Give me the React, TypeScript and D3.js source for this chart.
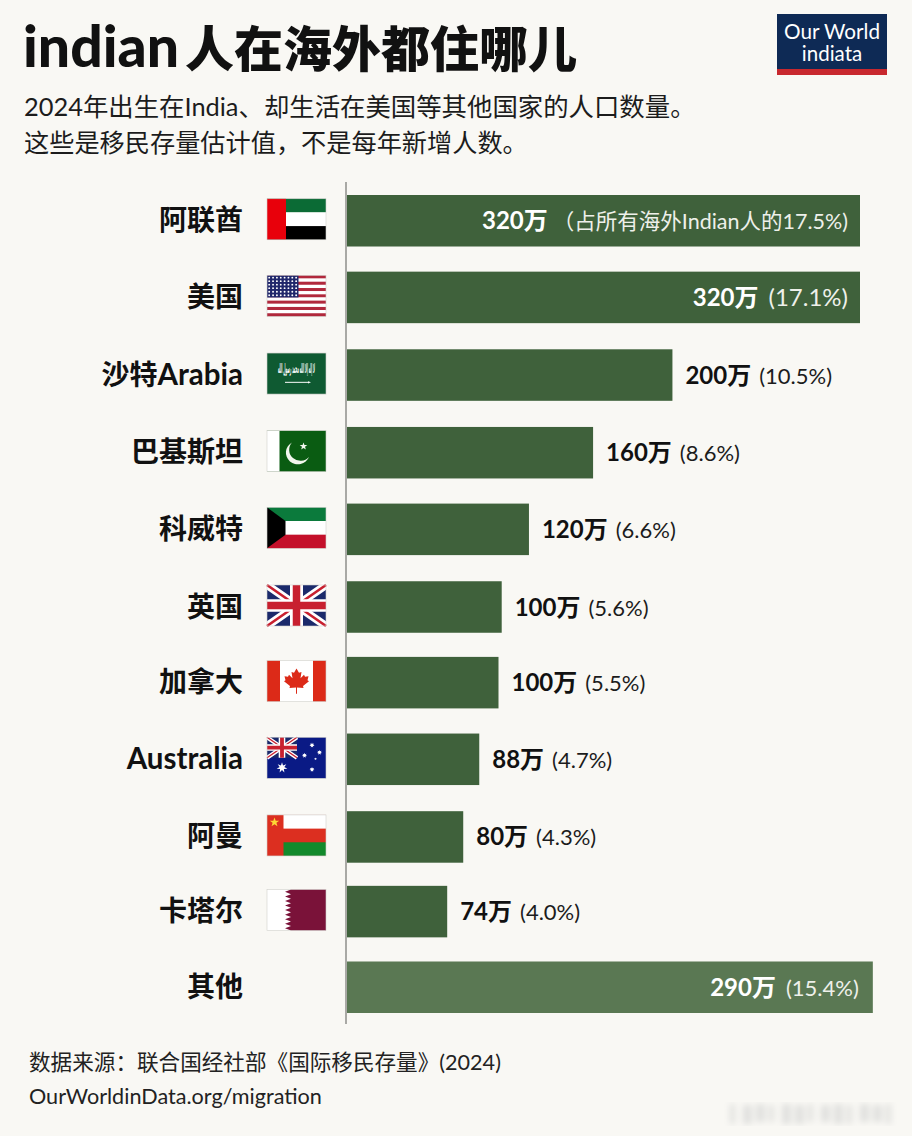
import * as d3 from "d3";
import React from "react";

const categories = ["阿联酋", "美国", "沙特Arabia", "巴基斯坦", "科威特", "英国", "加拿大", "Australia", "阿曼", "卡塔尔", "其他"];
const flagCodes = ["ae", "us", "sa", "pk", "kw", "gb", "ca", "au", "om", "qa", ""];
// Bar lengths, in 万. They don't follow the printed labels exactly.
const barLengths = [320, 320, 203, 153.5, 113.5, 96.5, 94.5, 82.5, 72.5, 62.5, 328];
const valueLabels = ["320万", "320万", "200万", "160万", "120万", "100万", "100万", "88万", "80万", "74万", "290万"];
const shareLabels = ["（占所有海外Indian人的17.5%)", "(17.1%)", "(10.5%)", "(8.6%)", "(6.6%)", "(5.6%)", "(5.5%)", "(4.7%)", "(4.3%)", "(4.0%)", "(15.4%)"];
const labelInside = [true, true, false, false, false, false, false, false, false, false, true];

const width = 912;
const height = 1136;
const fontFamily = '"Lato", "Noto Sans CJK SC", sans-serif';
const barColor = "#3f613b";
const otherColor = "#5a7853";

const x = d3.scaleLinear().domain([0, 320]).range([347, 860]);
const y = d3.scaleBand<string>().domain(categories).range([195, 1013]).paddingInner(0.328);
// rows in the reference aren't perfectly even
const rowNudge = [0, 0, 1, 2, 2, 3, 2, 2, 3, 1, 0];

function starPath(cx: number, cy: number, outer: number, inner: number, n: number) {
    const pts: [number, number][] = d3.range(n * 2).map((i) => {
        const a = (i * Math.PI) / n;
        const r = i % 2 === 0 ? outer : inner;
        return [cx + r * Math.sin(a), cy - r * Math.cos(a)];
    });
    return d3.line()(pts) + "Z";
}

function UnionJack({ w, h }: { w: number; h: number }) {
    const c = Math.max(w, h) / 59;
    return (
        <g>
            <rect width={w} height={h} fill="#1b2a6b" />
            <path d={`M0,0L${w},${h}M${w},0L0,${h}`} stroke="#fff" strokeWidth={8 * c} />
            <path d={`M0,0L${w},${h}M${w},0L0,${h}`} stroke="#c8202f" strokeWidth={2.6 * c} />
            <path d={`M${w / 2},0V${h}M0,${h / 2}H${w}`} stroke="#fff" strokeWidth={13 * c} />
            <path d={`M${w / 2},0V${h}M0,${h / 2}H${w}`} stroke="#c8202f" strokeWidth={7.5 * c} />
        </g>
    );
}

function Flag({ code }: { code: string }) {
    const w = 59;
    const h = 42;
    if (code === "ae") {
        return (
            <g>
                <rect width={w} height={14} fill="#0b6b35" />
                <rect y={14} width={w} height={14} fill="#fff" />
                <rect y={28} width={w} height={14} fill="#000" />
                <rect width={19} height={h} fill="#e8000b" />
            </g>
        );
    }
    if (code === "us") {
        const stripes = d3.range(13);
        const stars = d3.range(6).flatMap((r) => d3.range(8).map((c) => [2.2 + c * 3.85, 2.3 + r * 3.6]));
        return (
            <g>
                {stripes.map((i) => (
                    <rect key={i} y={(i * h) / 13} width={w} height={h / 13} fill={i % 2 === 0 ? "#b1283c" : "#fff"} />
                ))}
                <rect width={31.5} height={22.6} fill="#20276b" />
                {stars.map(([cx, cy], i) => (
                    <circle key={i} cx={cx} cy={cy} r={0.95} fill="#fff" />
                ))}
            </g>
        );
    }
    if (code === "sa") {
        return (
            <g>
                <rect width={w} height={h} fill="#0f5a32" />
                <text x={29.5} y={20} textAnchor="middle" fill="#fff" fontSize={14} fontWeight={700} fontFamily="DejaVu Sans" textLength={37} lengthAdjust="spacingAndGlyphs">
                    لا إله إلا الله محمد رسول الله
                </text>
                <path d="M18,30H41" stroke="#fff" strokeWidth={1} />
                <path d="M41,28.8L44,30L41,31.2Z" fill="#fff" />
            </g>
        );
    }
    if (code === "pk") {
        return (
            <g>
                <rect width={w} height={h} fill="#0a5c12" />
                <rect width={12.5} height={h} fill="#fff" />
                <path d="M25,12A12,12 0 1 0 42,27A10,10 0 1 1 25,12Z" fill="#f2f7ee" />
                <path d={starPath(36.5, 16, 4, 1.6, 5)} fill="#f2f7ee" />
            </g>
        );
    }
    if (code === "kw") {
        return (
            <g>
                <rect width={w} height={14} fill="#0b7a3c" />
                <rect y={14} width={w} height={14} fill="#fff" />
                <rect y={28} width={w} height={14} fill="#c4102a" />
                <path d="M0,0L18.5,14V28L0,42Z" fill="#000" />
            </g>
        );
    }
    if (code === "gb") {
        return <UnionJack w={w} h={42} />;
    }
    if (code === "ca") {
        return (
            <g>
                <rect width={w} height={h} fill="#fff" />
                <rect width={13} height={h} fill="#dc2a18" />
                <rect x={46} width={13} height={h} fill="#dc2a18" />
                <path
                    d="M29.5,8L32,12.5L34.5,11.5L33.5,18L37,14.5L38,16.5L41.5,16L40.5,20L42,21L36,26L36.5,28L30,27.5V34H29V27.5L22.5,28L23,26L17,21L18.5,20L17.5,16L21,16.5L22,14.5L25.5,18L24.5,11.5L27,12.5Z"
                    fill="#dc2a18"
                />
            </g>
        );
    }
    if (code === "au") {
        const southern = [[45, 8, 2.6], [52.5, 15.5, 2.6], [37.5, 18.5, 2.6], [48.5, 22, 1.4], [45, 33, 2.6]];
        return (
            <g>
                <rect width={w} height={h} fill="#0a1a85" />
                <UnionJack w={30} h={21} />
                <path d={starPath(15, 31, 5.5, 2.4, 7)} fill="#fff" />
                {southern.map(([cx, cy, r], i) => (
                    <path key={i} d={starPath(cx, cy, r, r * 0.5, 7)} fill="#fff" />
                ))}
            </g>
        );
    }
    if (code === "om") {
        return (
            <g>
                <rect width={w} height={h} fill="#dc2f20" />
                <rect x={16.5} width={42.5} height={14} fill="#fff" />
                <rect x={16.5} y={28} width={42.5} height={14} fill="#138a2c" />
                <path d={starPath(7.5, 7.5, 5, 2, 5)} fill="#fdd835" />
            </g>
        );
    }
    // qa
    const teeth = 9;
    const step = h / teeth;
    const zig = d3.range(teeth).map((i) => `L24,${i * step}L18,${i * step + step / 2}`).join("");
    return (
        <g>
            <rect width={w} height={h} fill="#fff" />
            <path d={`M59,0${zig}L24,${h}H59Z`} fill="#7a1239" />
        </g>
    );
}

// latin runs sit a bit larger than the CJK in the row labels
function CategoryLabel({ text, mid }: { text: string; mid: number }) {
    const runs = text.match(/[A-Za-z]+|[^A-Za-z]+/g) || [];
    return (
        <text x={243} y={mid + 9.5} textAnchor="end" fontWeight={700} fill="#111">
            {runs.map((run, i) => (
                <tspan key={i} fontSize={/[A-Za-z]/.test(run) ? 29.5 : 28}>{run}</tspan>
            ))}
        </text>
    );
}

export default function App() {
    return (
        <svg
            width={width}
            height={height}
            viewBox={`0 0 ${width} ${height}`}
            style={{ position: "absolute", left: 0, top: 0, display: "block" }}
            fontFamily={fontFamily}
        >
            <defs>
                <filter id="blur">
                    <feGaussianBlur stdDeviation="3" />
                </filter>
            </defs>
            <rect width={width} height={height} fill="#f9f8f4" />

            {/* title block */}
            <text x={23} y={67} fontWeight={900} fill="#111">
                <tspan fontSize={57}>indian</tspan>
                <tspan dx={6} fontSize={49}>人在海外都住哪儿</tspan>
            </text>
            <text x={24} y={116} fontSize={25.4} fill="#1c1c1c">2024年出生在India、却生活在美国等其他国家的人口数量。</text>
            <text x={24} y={152} fontSize={25.2} fill="#1c1c1c">这些是移民存量估计值，不是每年新增人数。</text>

            {/* logo */}
            <rect x={777} y={14} width={110} height={61} fill="#0e2a55" />
            <rect x={777} y={69} width={110} height={6} fill="#c8282e" />
            <text x={832} y={38.5} textAnchor="middle" fontSize={20.7} fill="#fff">Our World</text>
            <text x={832} y={60.5} textAnchor="middle" fontSize={20.5} fill="#fff">indiata</text>

            {/* axis line */}
            <line x1={346} x2={346} y1={182} y2={1024} stroke="#a9a9a5" strokeWidth={2} />

            {categories.map((cat, i) => {
                const top = (y(cat) as number) + rowNudge[i];
                const mid = top + y.bandwidth() / 2;
                const end = x(barLengths[i]);
                const inside = labelInside[i];
                const isOther = cat === "其他";
                const textX = inside ? end - (isOther ? 14 : 12) : end + 13;
                const shareSize = i === 0 ? 21.5 : i === 1 ? 24 : 22;
                const gap = i === 0 ? 5 : inside ? 10 : 8;
                return (
                    <g key={cat}>
                        <CategoryLabel text={cat} mid={mid} />
                        {flagCodes[i] && (
                            <g transform={`translate(267,${mid - 22}) scale(1,${41 / 42})`}>
                                <Flag code={flagCodes[i]} />
                                <rect width={59} height={42} fill="none" stroke="#cfcfcb" strokeWidth={0.6} />
                            </g>
                        )}
                        <rect x={x(0)} y={top} width={end - x(0)} height={y.bandwidth()} fill={isOther ? otherColor : barColor} />
                        <text x={textX} y={mid + 8.5} textAnchor={inside ? "end" : "start"} fill={inside ? "#fff" : "#111"}>
                            <tspan fontSize={24} fontWeight={700}>{valueLabels[i]}</tspan>
                            <tspan dx={gap} fontSize={shareSize} fill={inside ? "#eef0ea" : "#1c1c1c"}>{shareLabels[i]}</tspan>
                        </text>
                    </g>
                );
            })}

            {/* footer */}
            <text x={29} y={1070} fontSize={21.6} fill="#222">数据来源：联合国经社部《国际移民存量》(2024)</text>
            <text x={29} y={1104} fontSize={21.6} fill="#222">OurWorldinData.org/migration</text>

            {/* blurred watermark */}
            <g filter="url(#blur)" fill="#e0e0de">
                {d3.range(13).map((i) => (
                    <rect key={i} x={730 + i * 13} y={1104 + (i % 2)} width={i % 3 === 0 ? 5 : 9} height={20 - (i % 4)} />
                ))}
            </g>
        </svg>
    );
}
